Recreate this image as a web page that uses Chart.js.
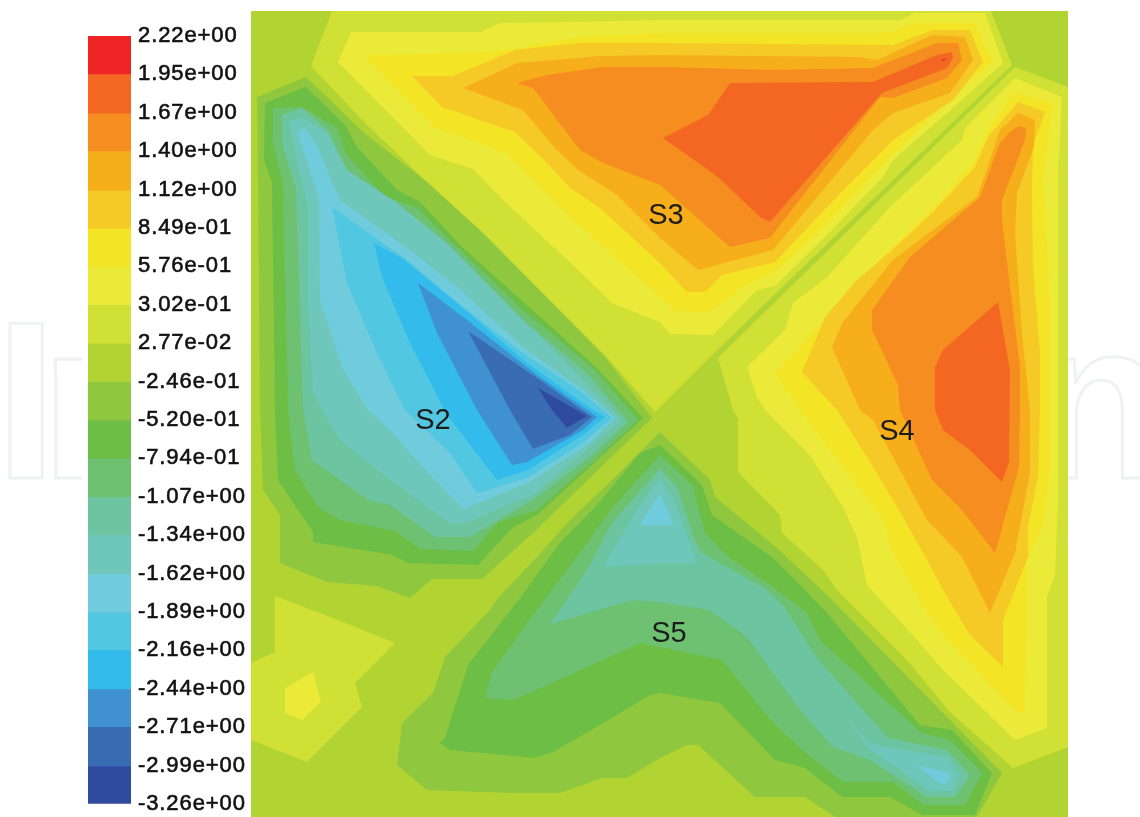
<!DOCTYPE html>
<html>
<head>
<meta charset="utf-8">
<script src="https://cdn.jsdelivr.net/npm/chart.js@4"></script>
<style>
html,body{margin:0;padding:0;background:#fff;width:1140px;height:817px;overflow:hidden}
#wrap{position:relative;width:1140px;height:817px;overflow:hidden}
canvas{position:absolute;display:block}
.wm{position:absolute;top:0;height:817px;overflow:hidden}
.wm span{position:absolute;top:275px;font:bold 224px/1 "Liberation Sans",sans-serif;color:#fff;-webkit-text-stroke:3px #f0f2f2;white-space:nowrap;line-height:250px}
</style>
</head>
<body>
<div id="wrap">
<div class="wm" style="left:0;width:82px"><span style="left:-5px;letter-spacing:-17px">In</span></div>
<div class="wm" style="left:1068px;width:72px"><span style="left:-38px">n</span></div>
<canvas id="bar" width="180" height="824" style="left:88px;top:0"></canvas>
<canvas id="plot" width="817" height="806" style="left:251px;top:11px"></canvas>
</div>
<script>
// Colour-scale levels, top to bottom
const levelLabels = ["2.22e+00","1.95e+00","1.67e+00","1.40e+00","1.12e+00","8.49e-01","5.76e-01","3.02e-01","2.77e-02","-2.46e-01","-5.20e-01","-7.94e-01","-1.07e+00","-1.34e+00","-1.62e+00","-1.89e+00","-2.16e+00","-2.44e+00","-2.71e+00","-2.99e+00","-3.26e+00"];
const levelValues = [2.22,1.95,1.67,1.40,1.12,0.849,0.576,0.302,0.0277,-0.246,-0.520,-0.794,-1.07,-1.34,-1.62,-1.89,-2.16,-2.44,-2.71,-2.99,-3.26];
const bandColors = ["#EE2425","#F36722","#F58D20","#F6AE1B","#F5CA27","#F3E525","#EBEA38","#D1E034","#B2D433","#8FC73E","#6CBE45","#6EC170","#6DC4A0","#6FC7BB","#70CCDC","#52C7E2","#33BBEC","#3F92CF","#3A6CB4","#2F4B9F"];

// Contour bands (x, y in plot units), each filled with the band above its lower level
const s3_b13 = [[332,11],[311,66],[365,123],[427,182],[483,233],[603,353],[655,412],[710,357],[1012,65],[991,11]];
const s3_b14 = [[351,32],[338,62],[430,155],[473,169],[503,200],[575,267],[612,303],[647,317],[660,322],[670,334],[713,335],[757,290],[775,286],[827,235],[883,177],[893,160],[962,100],[1003,63],[985,13],[915,13],[900,20],[660,20],[570,22],[500,23],[480,32]];
const s3_b15 = [[367,55],[367,58],[435,128],[507,153],[570,217],[615,257],[660,297],[675,311],[710,312],[743,287],[775,272],[827,223],[890,157],[960,90],[992,62],[975,23],[913,23],[890,33],[660,33],[578,37],[515,49],[465,53]];
const s3_b16 = [[412,76],[442,107],[515,132],[547,163],[570,188],[600,208],[660,263],[687,292],[705,292],[722,275],[775,262],[827,207],[893,140],[953,100],[983,62],[970,30],[933,30],[893,45],[660,43],[578,43],[515,50],[453,76]];
const s3_b17 = [[463,88],[523,110],[555,148],[578,170],[617,195],[660,238],[698,270],[773,250],[873,130],[893,113],[950,93],[973,60],[965,37],[932,35],[877,60],[860,57],[660,55],[600,56],[517,63]];
const s3_b18 = [[517,83],[533,88],[580,150],[603,163],[660,185],[730,247],[770,238],[880,97],[893,98],[947,78],[962,60],[958,43],[937,43],[873,68],[773,70],[700,68],[660,67],[603,67],[547,75]];
const s3_b19 = [[953,58],[947,68],[882,93],[770,222],[760,217],[718,177],[663,138],[708,115],[730,83],[873,82],[937,55],[952,52]];
const s3_b20 = [[941,60],[946,58],[944,61]];

const s4_b13 = [[718,358],[1015,67],[1068,87],[1068,747],[1013,768],[950,712],[907,660],[837,590],[823,570],[782,533],[780,515],[738,472],[738,418],[733,410]];
const s4_b14 = [[747,367],[785,330],[793,303],[827,277],[890,207],[962,140],[965,128],[1015,78],[1062,97],[1058,173],[1058,410],[1058,500],[1055,575],[1047,597],[1047,728],[1015,740],[943,670],[917,640],[867,585],[857,537],[843,507],[808,453],[765,410],[757,397]];
const s4_b15 = [[775,373],[827,317],[867,272],[940,200],[973,163],[988,130],[1015,92],[1053,103],[1043,177],[1050,300],[1050,470],[1043,525],[1027,560],[1027,608],[1025,712],[1018,713],[947,640],[923,607],[907,577],[893,553],[883,520],[853,480],[800,410]];
const s4_b16 = [[802,372],[825,317],[857,280],[890,252],[932,213],[975,167],[988,137],[1018,102],[1045,112],[1033,145],[1032,193],[1033,267],[1040,353],[1040,410],[1038,477],[1028,527],[1028,557],[1003,620],[1003,667],[970,635],[947,597],[927,560],[903,517],[867,457],[837,410]];
const s4_b17 = [[832,347],[843,322],[893,260],[977,197],[990,160],[1000,130],[1018,113],[1035,120],[1034,147],[1017,193],[1015,233],[1022,333],[1030,410],[1030,473],[1015,553],[990,613],[962,557],[927,520],[900,470],[873,420],[860,410]];
const s4_b18 = [[1019,126],[1026,128],[1025,140],[1002,200],[1002,220],[1010,287],[1020,367],[1020,410],[1019,467],[1007,510],[995,553],[962,510],[932,480],[900,410],[898,385],[872,330],[872,310],[910,257],[980,197],[1000,143],[1010,132]];
const s4_b19 = [[998,302],[1010,370],[1009,462],[1002,482],[970,450],[943,430],[935,410],[935,367],[943,350]];

const sw_b13 = [[275,596],[333,618],[395,643],[355,683],[362,707],[307,762],[251,740],[251,663],[275,652]];
const sw_b14 = [[285,688],[313,672],[321,702],[302,720],[285,713]];

const s2_b11 = [[257,97],[306,77],[363,132],[427,182],[483,233],[605,357],[652,418],[600,468],[533,533],[482,579],[432,579],[410,598],[377,586],[327,582],[280,563],[280,515],[263,490],[260,410],[258,170]];
const s2_b10 = [[265,103],[306,87],[345,125],[357,147],[397,190],[420,202],[463,248],[597,368],[643,418],[583,473],[537,515],[513,527],[478,565],[407,563],[393,555],[313,542],[313,532],[278,480],[275,410],[272,182],[264,160]];
const s2_b9 = [[273,108],[303,107],[337,128],[347,155],[383,195],[417,208],[457,247],[523,310],[593,368],[638,420],[595,460],[537,510],[498,522],[473,551],[420,549],[395,531],[340,520],[318,507],[295,470],[288,410],[283,183],[273,143]];
const s2_b8 = [[282,115],[302,108],[328,130],[347,170],[383,200],[413,215],[453,252],[517,315],[587,373],[628,422],[590,457],[533,500],[470,537],[435,537],[390,505],[368,500],[312,460],[303,410],[296,190],[282,143]];
const s2_b7 = [[289,122],[302,117],[327,133],[347,170],[397,203],[447,243],[513,310],[583,380],[622,420],[583,453],[533,495],[490,512],[467,523],[450,523],[390,480],[340,440],[322,410],[313,393],[308,300],[308,207],[296,160]];
const s2_b6 = [[298,133],[305,128],[318,148],[340,200],[407,248],[457,287],[523,347],[583,390],[615,418],[587,445],[528,483],[463,509],[428,473],[393,433],[368,410],[342,367],[320,300],[319,200]];
const s2_b5 = [[332,207],[407,260],[457,302],[523,353],[583,393],[612,418],[583,443],[527,478],[477,493],[450,453],[405,410],[377,353],[347,283]];
const s2_b4 = [[374,243],[402,258],[463,308],[527,363],[593,410],[605,417],[583,435],[528,470],[497,480],[447,415],[410,343],[382,277]];
const s2_b3 = [[418,283],[467,320],[537,375],[597,417],[583,430],[527,462],[512,465],[477,410],[437,333]];
const s2_b2 = [[468,331],[537,378],[592,417],[570,435],[533,449],[510,410]];
const s2_b1 = [[538,388],[587,416],[567,428],[552,410]];

const s5_b11 = [[660,432],[710,480],[715,497],[777,548],[827,595],[952,722],[1002,773],[977,817],[835,817],[805,797],[755,797],[698,745],[687,745],[660,758],[627,778],[602,778],[560,793],[513,793],[427,790],[397,765],[402,723],[433,693],[445,657],[490,610],[498,598],[537,557],[570,520],[612,480],[650,442]];
const s5_b10 = [[660,445],[702,485],[712,515],[773,558],[803,588],[827,613],[920,725],[952,730],[992,773],[975,815],[922,815],[890,797],[842,797],[805,768],[775,760],[720,703],[660,693],[650,695],[600,725],[553,752],[535,758],[450,750],[440,743],[445,738],[468,665],[517,602],[560,543],[597,505],[640,453]];
const s5_b9 = [[660,455],[693,486],[705,533],[728,557],[773,587],[807,613],[820,640],[920,732],[950,740],[982,773],[965,805],[923,805],[893,782],[843,782],[800,748],[773,723],[722,660],[660,647],[640,643],[552,683],[513,700],[485,698],[492,672],[527,623],[563,575],[587,543],[613,507]];
const s5_b8 = [[550,624],[587,570],[612,523],[660,468],[677,487],[695,540],[702,553],[763,587],[783,605],[817,658],[888,738],[947,750],[970,775],[955,797],[927,797],[870,760],[833,747],[800,710],[747,637],[710,610],[660,602],[633,600]];
const s5_b7a = [[603,567],[640,505],[660,478],[673,497],[697,563],[660,563]];
const s5_b7b = [[843,712],[870,744],[947,757],[960,775],[953,791],[930,791],[868,748]];
const s5_b6a = [[640,525],[660,493],[673,525]];
const s5_b6b = [[917,765],[948,773],[950,778],[945,785],[935,780]];

// Painted in this order, outer contours first; the band number indexes bandColors from the bottom (1) to the top (20)
const contourBands = [
  [13,s3_b13],[14,s3_b14],[15,s3_b15],[16,s3_b16],[17,s3_b17],[18,s3_b18],[19,s3_b19],[20,s3_b20],
  [13,s4_b13],[14,s4_b14],[15,s4_b15],[16,s4_b16],[17,s4_b17],[18,s4_b18],[19,s4_b19],
  [13,sw_b13],[14,sw_b14],
  [11,s2_b11],[10,s2_b10],[9,s2_b9],[8,s2_b8],[7,s2_b7],[6,s2_b6],[5,s2_b5],[4,s2_b4],[3,s2_b3],[2,s2_b2],[1,s2_b1],
  [11,s5_b11],[10,s5_b10],[9,s5_b9],[8,s5_b8],[7,s5_b7a],[7,s5_b7b],[6,s5_b6a],[6,s5_b6b]
];
const backgroundBand = 12;

const regionNames = ["S2","S3","S4","S5"];
const regionX = [433,666,897,669];
const regionY = [421,216,432,634];

const bandColor = b => bandColors[20 - b];

const regionLabels = {
  id:'regionLabels',
  afterDatasetsDraw(c){
    const g=c.ctx; g.save();
    g.font='29px "Liberation Sans"'; g.fillStyle='#1c1c1c'; g.textAlign='center'; g.textBaseline='middle';
    regionNames.forEach((t,i)=>g.fillText(t,c.scales.x.getPixelForValue(regionX[i]),c.scales.y.getPixelForValue(regionY[i])));
    g.restore();
  }
};
const plotBackground = {
  id:'plotBackground',
  beforeDraw(c){
    const a=c.chartArea,g=c.ctx; g.save(); g.fillStyle=bandColor(backgroundBand); g.fillRect(a.left,a.top,a.right-a.left,a.bottom-a.top); g.restore();
  }
};
const wideLabels = {
  id:'wideLabels',
  beforeLayout(c){ c.ctx.letterSpacing='0.9px'; },
  beforeDraw(c){ c.ctx.letterSpacing='0.9px'; }
};

new Chart(document.getElementById('plot'),{
  type:'scatter',
  data:{datasets:contourBands.map(([b,poly],i)=>({
    data:poly.map(([x,y])=>({x,y})),
    showLine:true, fill:'shape', tension:0,
    backgroundColor:bandColor(b), borderWidth:0, borderColor:'transparent',
    pointRadius:0, pointHoverRadius:0, order:contourBands.length-i
  }))},
  options:{
    responsive:false, animation:false, events:[],
    layout:{padding:0},
    plugins:{legend:{display:false},tooltip:{enabled:false}},
    scales:{
      x:{type:'linear',min:251,max:1068,display:false},
      y:{type:'linear',min:11,max:817,reverse:true,display:false}
    }
  },
  plugins:[plotBackground,regionLabels]
});

new Chart(document.getElementById('bar'),{
  type:'bar',
  data:{labels:['scale'],datasets:bandColors.map((col,i)=>({
    data:[[levelValues[i+1],levelValues[i]]],
    backgroundColor:col, borderWidth:0, barPercentage:1, categoryPercentage:1, grouped:false
  }))},
  options:{
    responsive:false, animation:false, events:[],
    layout:{padding:{top:36,bottom:7}},
    plugins:{legend:{display:false},tooltip:{enabled:false}},
    scales:{
      x:{display:false},
      y:{
        position:'right', min:levelValues[levelValues.length-1], max:levelValues[0],
        grid:{display:false,drawTicks:false}, border:{display:false},
        afterBuildTicks(s){ s.ticks=levelValues.slice().reverse().map(v=>({value:v})); },
        afterFit(s){ s.width=137; },
        ticks:{
          autoSkip:false, padding:7, color:'#111', maxRotation:0,
          font:{family:'"Liberation Sans"',size:22},
          textStrokeColor:'#111', textStrokeWidth:0.6,
          callback(v){ return levelLabels[levelValues.indexOf(v)]; }
        }
      }
    }
  },
  plugins:[wideLabels]
});
</script>
</body>
</html>
